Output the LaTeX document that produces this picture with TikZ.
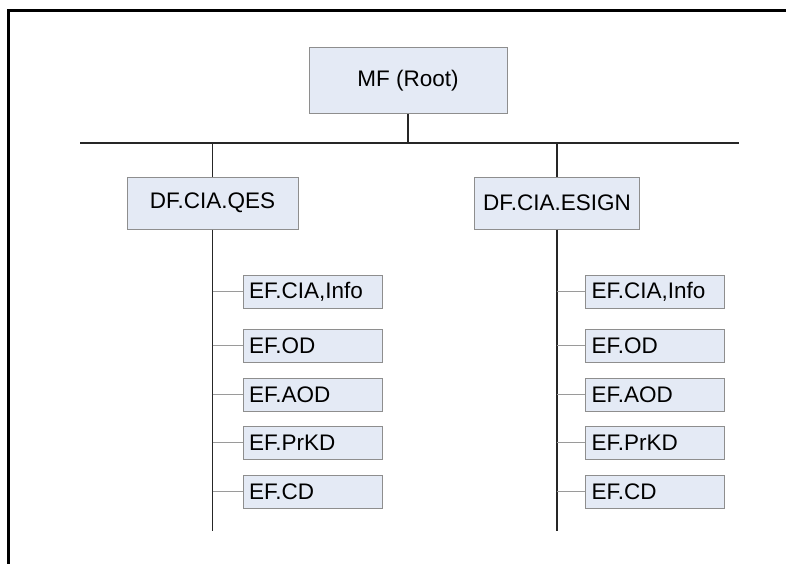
\documentclass[tikz,border=0pt]{standalone}
\usepackage{fontspec}
\setmainfont{Liberation Sans}
\definecolor{boxfill}{HTML}{E4EAF5}
\definecolor{boxline}{HTML}{8E8E8E}
\definecolor{twig}{HTML}{9A9A9A}
\begin{document}
\begin{tikzpicture}[x=1pt,y=-1pt,
  box/.style={draw=boxline,fill=boxfill,line width=1pt,inner sep=0pt,font=\fontsize{22.5}{26}\selectfont},
  efbox/.style={box,minimum width=139pt,minimum height=33pt,text width=127pt,align=left},
  trunk/.style={draw=black!85,line width=1.4pt},
  twigline/.style={draw=twig,line width=0.9pt}]
\useasboundingbox (0,0) rectangle (786,564);
\draw[line width=3pt] (8,600) -- (8,11) -- (800,11);
% root
\node[box,minimum width=198pt,minimum height=66pt] (root) at (408,81) {MF (Root)};
\coordinate (busL) at (80,143);
\coordinate (busR) at (739,143);
\coordinate (busM) at (408,143);
\coordinate (busA) at (212.5,143);
\coordinate (busB) at (557,143);
\draw[trunk,line width=1.3pt] (busL) -- (busR);
\draw[trunk] (root.south) -- (busM);
% level 2
\node[box,minimum width=171pt,minimum height=52pt] (qes) at (212.5,203) {DF.CIA.QES};
\node[box,minimum width=165pt,minimum height=52pt] (esign) at (557,203) {DF.CIA.ESIGN};
\draw[trunk] (busA) -- (qes.north);
\draw[trunk] (busB) -- (esign.north);
\coordinate (qesEnd) at (212.5,531);
\coordinate (esignEnd) at (557,531);
\draw[trunk,line width=1.8pt] (qes.south) -- (qesEnd);
\draw[trunk,line width=1.8pt] (esign.south) -- (esignEnd);
% leaves
\foreach \side/\x/\tx in {A/312.5/212.5, B/655/557}{
  \foreach \n/\y/\t in {1/291.5/{EF.CIA,Info}, 2/345.5/EF.OD, 3/394.5/EF.AOD, 4/442.5/EF.PrKD, 5/491.5/EF.CD}{
    \node[efbox] (ef\side\n) at (\x,\y) {\t};
    \coordinate (j\side\n) at (\tx,\y);
    \draw[twigline] (j\side\n) -- (ef\side\n.west);
  }
}
\end{tikzpicture}
\end{document}
